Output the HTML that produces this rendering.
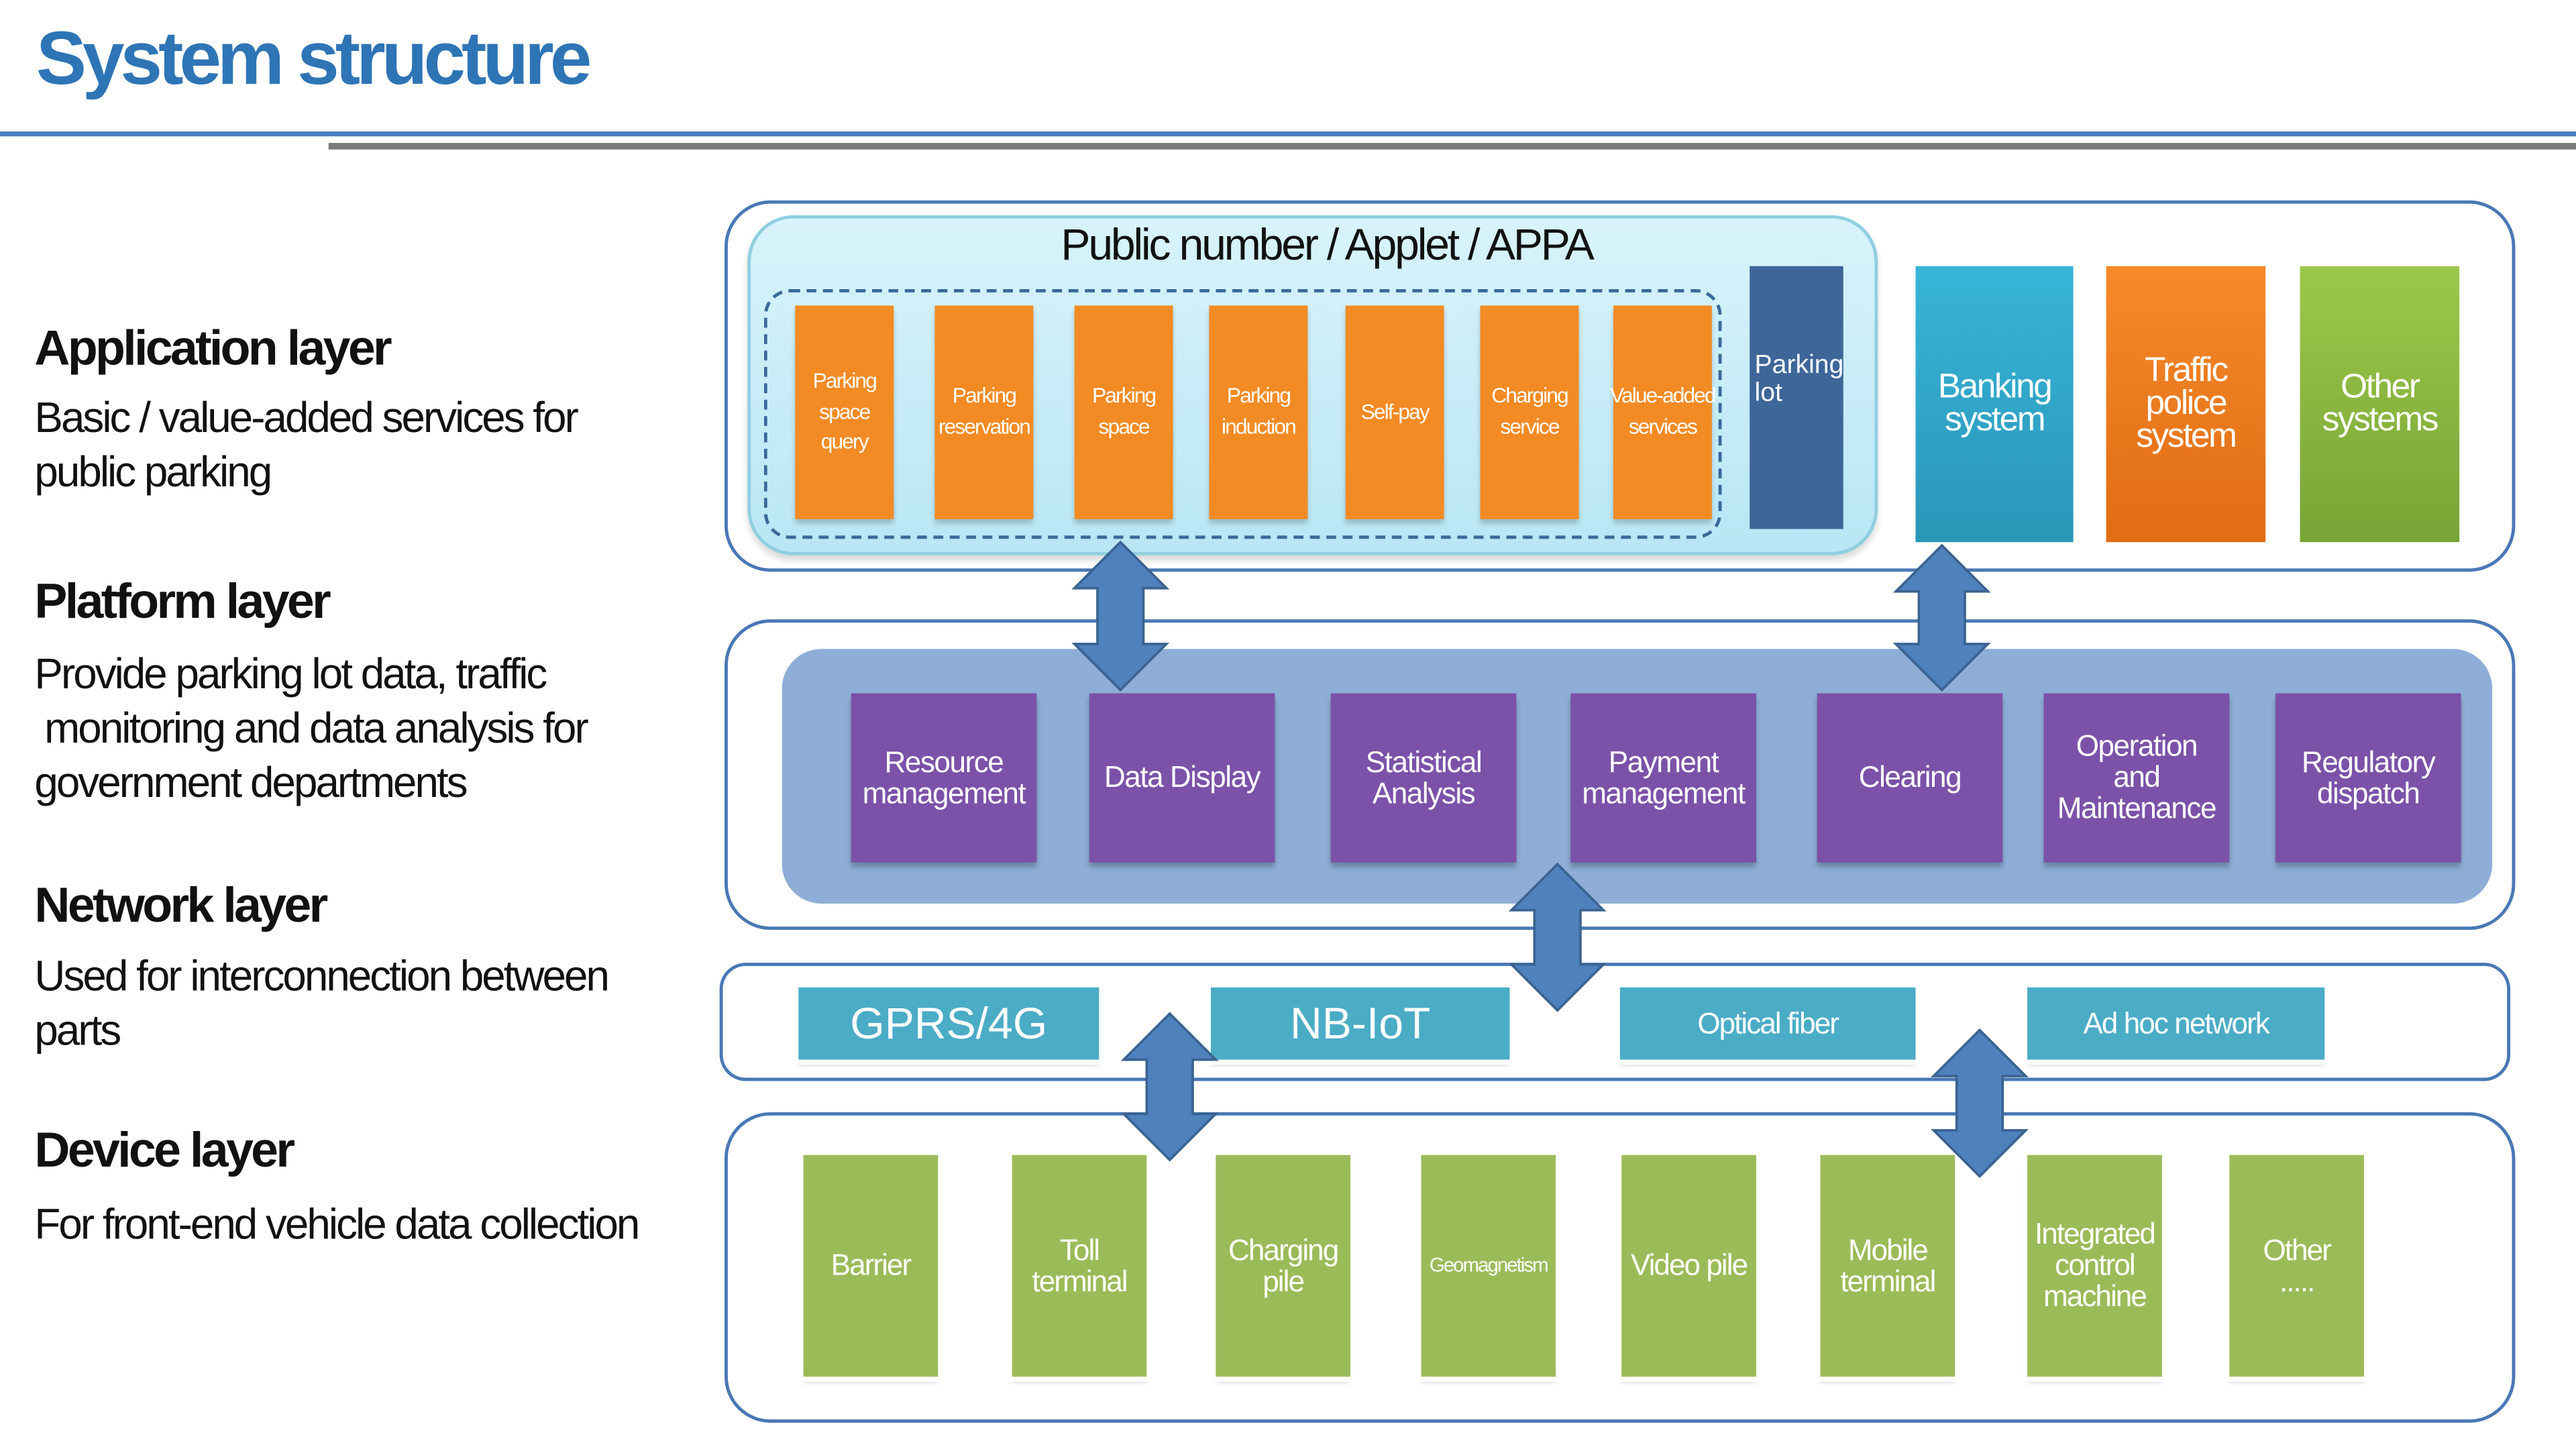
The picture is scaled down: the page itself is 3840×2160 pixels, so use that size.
<!DOCTYPE html>
<html><head><meta charset="utf-8"><style>
html,body{margin:0;padding:0;background:#fff;width:3840px;height:2160px;overflow:hidden}
#w{position:absolute;left:0;top:0;width:1568px;height:882px;transform:scale(2.4490,2.4490);transform-origin:0 0;font-family:"Liberation Sans",sans-serif}
.a{position:absolute;box-sizing:border-box}
.t{display:flex;align-items:center;justify-content:center;text-align:center;color:#fff;line-height:1.05}
.o{background:#f28b24;width:60px;top:186px;height:130px;font-size:13px;letter-spacing:-0.8px;line-height:1.45;white-space:nowrap;box-shadow:0 3px 3px rgba(0,0,0,.2)}
.p{background:#7b52a8;width:113px;top:422px;height:103px;font-size:18px;letter-spacing:-0.6px;box-shadow:0 3px 3px rgba(0,0,0,.25)}
.n{background:#4bacc6;top:601px;height:44px;box-shadow:0 3px 3px rgba(0,0,0,.2);outline:3px solid #fff}
.g{background:#9bbb59;width:82px;top:703px;height:135px;font-size:18px;letter-spacing:-0.8px;box-shadow:0 3px 3px rgba(0,0,0,.25);outline:3px solid #fff}
.L{position:absolute;left:21px;color:#111;letter-spacing:-1.2px}
.h{font-size:30px;font-weight:bold;letter-spacing:-1.5px}
.d{font-size:26px;line-height:33px}
.box{border:2.5px solid #4a78b5;border-radius:28px}
</style></head><body><div id="w">
<div class="a" style="left:22px;top:8px;font-size:46px;font-weight:bold;color:#2e75b6;letter-spacing:-2.5px">System structure</div>
<div class="a" style="left:0;top:80px;width:1568px;height:3px;background:#4a7fc0"></div>
<div class="a" style="left:200px;top:87px;width:1368px;height:4px;background:#7a7a7a"></div>

<div class="L h" style="top:196px">Application layer</div>
<div class="L d" style="top:238px">Basic / value-added services for<br>public parking</div>
<div class="L h" style="top:350px">Platform layer</div>
<div class="L d" style="top:394px">Provide parking lot data, traffic<br>&nbsp;monitoring and data analysis for<br>government departments</div>
<div class="L h" style="top:535px">Network layer</div>
<div class="L d" style="top:578px">Used for interconnection between<br>parts</div>
<div class="L h" style="top:684px">Device layer</div>
<div class="L d" style="top:729px">For front-end vehicle data collection</div>

<div class="a box" style="left:441px;top:122px;width:1090px;height:226px"></div>
<div class="a" style="left:455px;top:131px;width:688px;height:207px;background:linear-gradient(#d8f3fb,#b9e6f5);border:2px solid #8fcfe0;border-radius:28px;box-shadow:0 3px 4px rgba(0,0,0,.15)"></div>
<div class="a" style="left:455px;top:134px;width:705px;text-align:center;font-size:27px;letter-spacing:-1.3px;color:#111">Public number / Applet / APPA</div>
<div class="a" style="left:465px;top:176px;width:583px;height:152px;border:2px dashed #3a6a9a;border-radius:16px"></div>
<div class="a t o" style="left:484px">Parking<br>space<br>query</div>
<div class="a t o" style="left:569px">Parking<br>reservation</div>
<div class="a t o" style="left:654px">Parking<br>space</div>
<div class="a t o" style="left:736px">Parking<br>induction</div>
<div class="a t o" style="left:819px">Self-pay</div>
<div class="a t o" style="left:901px">Charging<br>service</div>
<div class="a t o" style="left:982px">Value-added<br>services</div>
<div class="a t" style="left:1065px;top:162px;width:57px;height:160px;background:#3e6699;font-size:16px;justify-content:flex-start;padding-left:3px;text-align:left;padding-bottom:20px">Parking<br>lot</div>
<div class="a t" style="left:1166px;top:162px;width:96px;height:168px;background:linear-gradient(#37b5d8,#2a96b8);font-size:21px;letter-spacing:-1px;line-height:.95">Banking<br>system</div>
<div class="a t" style="left:1282px;top:162px;width:97px;height:168px;background:linear-gradient(#f68a2a,#e06c14);font-size:21px;letter-spacing:-1px;line-height:.95">Traffic<br>police<br>system</div>
<div class="a t" style="left:1400px;top:162px;width:97px;height:168px;background:linear-gradient(#9cc84a,#78a436);font-size:21px;letter-spacing:-1px;line-height:.95">Other<br>systems</div>

<div class="a box" style="left:441px;top:377px;width:1090px;height:189px"></div>
<div class="a" style="left:476px;top:395px;width:1041px;height:155px;background:#8eaed8;border-radius:24px"></div>
<div class="a t p" style="left:518px">Resource<br>management</div>
<div class="a t p" style="left:663px">Data Display</div>
<div class="a t p" style="left:810px">Statistical<br>Analysis</div>
<div class="a t p" style="left:956px">Payment<br>management</div>
<div class="a t p" style="left:1106px">Clearing</div>
<div class="a t p" style="left:1244px">Operation<br>and<br>Maintenance</div>
<div class="a t p" style="left:1385px">Regulatory<br>dispatch</div>

<div class="a box" style="left:438px;top:586px;width:1090px;height:72px;border-radius:16px"></div>
<div class="a t n" style="left:486px;width:183px;font-size:27px">GPRS/4G</div>
<div class="a t n" style="left:737px;width:182px;font-size:27px">NB-IoT</div>
<div class="a t n" style="left:986px;width:180px;font-size:18px;letter-spacing:-0.8px">Optical fiber</div>
<div class="a t n" style="left:1234px;width:181px;font-size:18px;letter-spacing:-0.8px">Ad hoc network</div>

<div class="a box" style="left:441px;top:677px;width:1090px;height:189px"></div>
<div class="a t g" style="left:489px">Barrier</div>
<div class="a t g" style="left:616px">Toll<br>terminal</div>
<div class="a t g" style="left:740px">Charging<br>pile</div>
<div class="a t g" style="left:865px;font-size:12px">Geomagnetism</div>
<div class="a t g" style="left:987px">Video pile</div>
<div class="a t g" style="left:1108px">Mobile<br>terminal</div>
<div class="a t g" style="left:1234px">Integrated<br>control<br>machine</div>
<div class="a t g" style="left:1357px">Other<br>.....</div>

<svg class="a" style="left:0;top:0" width="1568" height="882" viewBox="0 0 1568 882">
<g fill="#4f81bd" stroke="#3a6390" stroke-width="1.5">
<path d="M682 330 L710 358 L696 358 L696 392 L710 392 L682 420 L654 392 L668 392 L668 358 L654 358 Z"/>
<path d="M1182 332 L1210 360 L1196 360 L1196 392 L1210 392 L1182 420 L1154 392 L1168 392 L1168 360 L1154 360 Z"/>
<path d="M948 526 L976 554 L962 554 L962 587 L976 587 L948 615 L920 587 L934 587 L934 554 L920 554 Z"/>
<path d="M712 617 L740 645 L726 645 L726 678 L740 678 L712 706 L684 678 L698 678 L698 645 L684 645 Z"/>
<path d="M1205 627 L1233 655 L1219 655 L1219 688 L1233 688 L1205 716 L1177 688 L1191 688 L1191 655 L1177 655 Z"/>
</g></svg>
</div></body></html>
